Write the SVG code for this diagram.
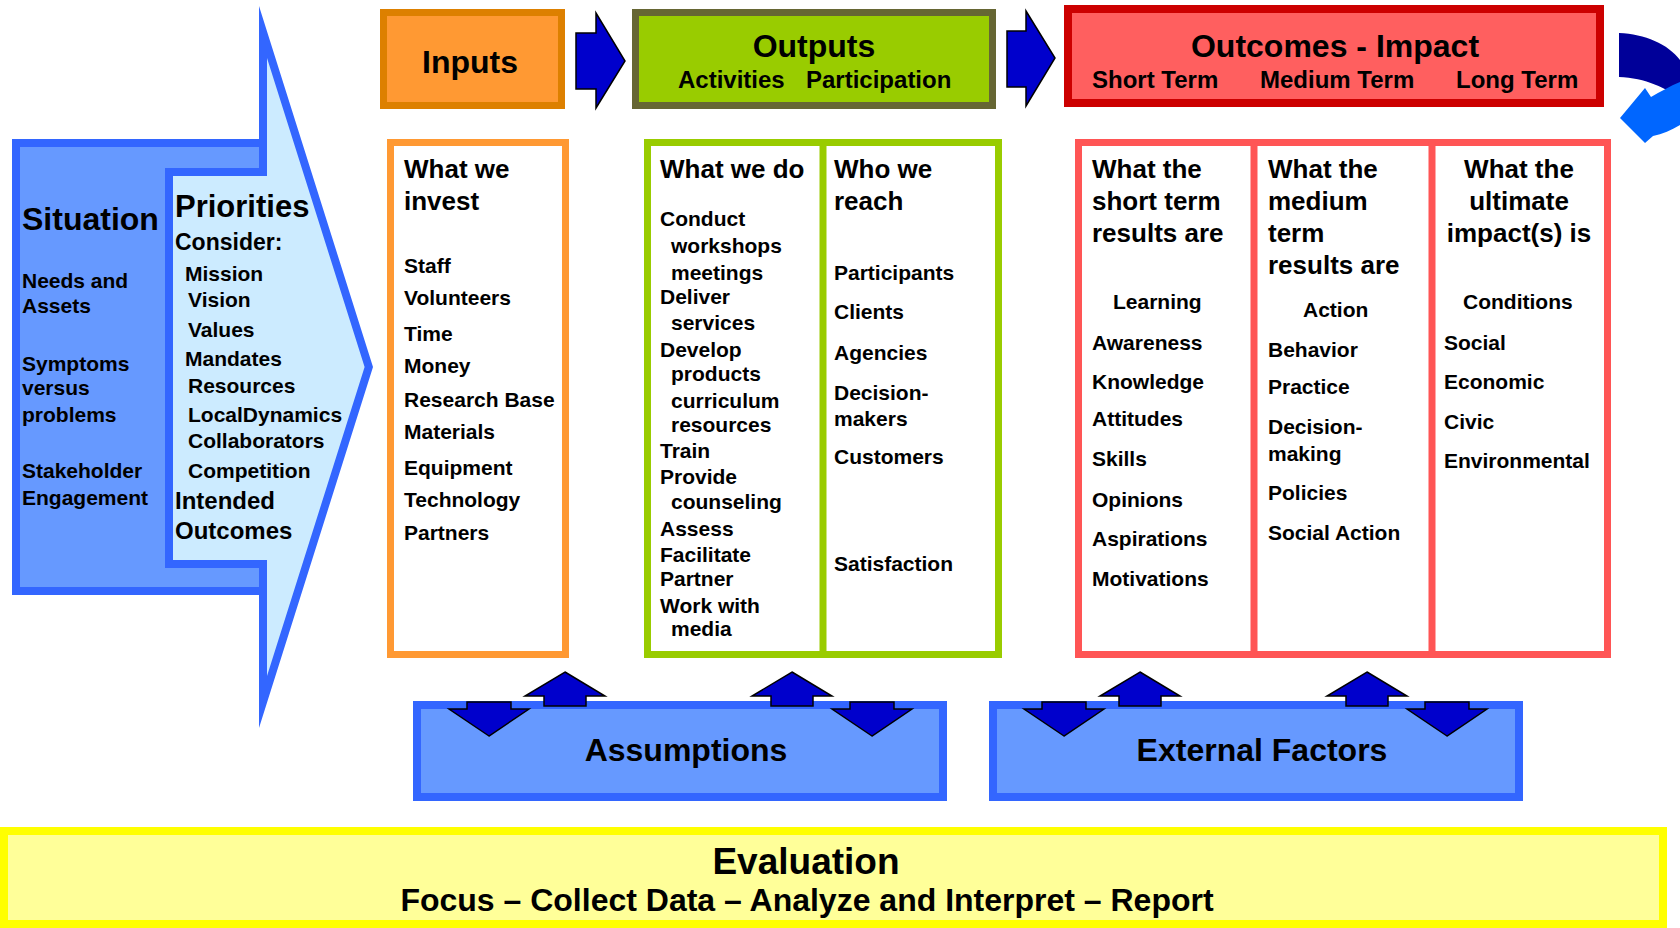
<svg xmlns="http://www.w3.org/2000/svg" width="1680" height="928" viewBox="0 0 1680 928">
  <style>
    text { font-family: "Liberation Sans", Arial, Helvetica, sans-serif; font-weight: bold; fill: #000; }
    .t37 { font-size: 37px; }
    .t32 { font-size: 32px; }
    .t31 { font-size: 31px; }
    .t26 { font-size: 26px; }
    .t24 { font-size: 24px; }
    .t23 { font-size: 23px; }
    .t21 { font-size: 21px; }
    .mid { text-anchor: middle; }
    .flow { fill: #0000CC; stroke: #000; stroke-width: 1.5; }
    .col { fill: #fff; stroke-width: 7; }
  </style>
  <defs>
    <path id="upArrow" d="M0,0 L40,24 L21,24 L21,34 L-21,34 L-21,24 L-40,24 Z"/>
    <path id="downArrow" d="M0,0 L-40,-27 L-22,-27 L-22,-34 L22,-34 L22,-27 L40,-27 Z"/>
  </defs>

  <rect width="1680" height="928" fill="#fff"/>

  <!-- Situation panel -->
  <g id="situation">
    <rect x="12" y="139" width="255" height="456" fill="#3366FF"/>
    <rect x="20" y="147" width="239" height="440" fill="#6699FF"/>
    <text class="t32" x="22" y="230">Situation</text>
    <text class="t21" x="22" y="288">Needs and</text>
    <text class="t21" x="22" y="313">Assets</text>
    <text class="t21" x="22" y="371">Symptoms</text>
    <text class="t21" x="22" y="395">versus</text>
    <text class="t21" x="22" y="422">problems</text>
    <text class="t21" x="22" y="478">Stakeholder</text>
    <text class="t21" x="22" y="505">Engagement</text>
  </g>

  <!-- Priorities arrow -->
  <g id="priorities">
    <polygon points="165,168 259,168 259,6 373,367 259,728 259,568 165,568" fill="#3366FF"/>
    <polygon points="173,176 267,176 267,58 364.6,367 267,676 267,560 173,560" fill="#CCEBFF"/>
    <text class="t31" x="175" y="217">Priorities</text>
    <text class="t23" x="175" y="250">Consider:</text>
    <text class="t21" x="185" y="281">Mission</text>
    <text class="t21" x="188" y="307">Vision</text>
    <text class="t21" x="188" y="337">Values</text>
    <text class="t21" x="185" y="366">Mandates</text>
    <text class="t21" x="188" y="393">Resources</text>
    <text class="t21" x="188" y="422">LocalDynamics</text>
    <text class="t21" x="188" y="448">Collaborators</text>
    <text class="t21" x="188" y="478">Competition</text>
    <text class="t24" x="175" y="509">Intended</text>
    <text class="t24" x="175" y="539">Outcomes</text>
  </g>

  <!-- Header boxes -->
  <g id="inputs-head">
    <rect x="383.5" y="12.5" width="178" height="93" fill="#FF9933" stroke="#DD8000" stroke-width="7"/>
    <text class="t32 mid" x="470" y="73">Inputs</text>
  </g>
  <g id="outputs-head">
    <rect x="635.5" y="12.5" width="357" height="93" fill="#99CC00" stroke="#666633" stroke-width="7"/>
    <text class="t32 mid" x="814" y="57">Outputs</text>
    <text class="t24" x="678" y="88">Activities</text>
    <text class="t24" x="806" y="88">Participation</text>
  </g>
  <g id="outcomes-head">
    <rect x="1068" y="9" width="532" height="94" fill="#FF5F5F" stroke="#CC0000" stroke-width="8"/>
    <text class="t32 mid" x="1335" y="57">Outcomes - Impact</text>
    <text class="t24" x="1092" y="88">Short Term</text>
    <text class="t24" x="1260" y="88">Medium Term</text>
    <text class="t24" x="1456" y="88">Long Term</text>
  </g>

  <!-- Return arrow at the right edge -->
  <g id="return-arrow">
    <path d="M1619,33 C1645,34 1668,44 1680,60 L1680,100 C1668,88 1645,78 1619,77 Z" fill="#000099"/>
    <path d="M1620,118 L1645,88 L1651,97 C1660,92 1670,86 1680,82 L1680,125 C1672,130 1662,134 1653,136 L1645,143 Z" fill="#0066FF"/>
  </g>

  <!-- Detail columns -->
  <g id="inputs-detail">
    <rect class="col" x="390.5" y="142.5" width="175" height="512" stroke="#FF9933"/>
    <text class="t26" x="404" y="178">What we</text>
    <text class="t26" x="404" y="210">invest</text>
    <text class="t21" x="404" y="273">Staff</text>
    <text class="t21" x="404" y="305">Volunteers</text>
    <text class="t21" x="404" y="341">Time</text>
    <text class="t21" x="404" y="373">Money</text>
    <text class="t21" x="404" y="407">Research Base</text>
    <text class="t21" x="404" y="439">Materials</text>
    <text class="t21" x="404" y="475">Equipment</text>
    <text class="t21" x="404" y="507">Technology</text>
    <text class="t21" x="404" y="540">Partners</text>
  </g>

  <g id="outputs-detail">
    <rect class="col" x="647.5" y="142.5" width="351" height="512" stroke="#99CC00"/>
    <line x1="823" y1="142" x2="823" y2="655" stroke="#99CC00" stroke-width="7"/>
    <text class="t26" x="660" y="178">What we do</text>
    <text class="t21" x="660" y="226">Conduct</text>
    <text class="t21" x="671" y="253">workshops</text>
    <text class="t21" x="671" y="280">meetings</text>
    <text class="t21" x="660" y="304">Deliver</text>
    <text class="t21" x="671" y="330">services</text>
    <text class="t21" x="660" y="357">Develop</text>
    <text class="t21" x="671" y="381">products</text>
    <text class="t21" x="671" y="408">curriculum</text>
    <text class="t21" x="671" y="432">resources</text>
    <text class="t21" x="660" y="458">Train</text>
    <text class="t21" x="660" y="484">Provide</text>
    <text class="t21" x="671" y="509">counseling</text>
    <text class="t21" x="660" y="536">Assess</text>
    <text class="t21" x="660" y="562">Facilitate</text>
    <text class="t21" x="660" y="586">Partner</text>
    <text class="t21" x="660" y="613">Work with</text>
    <text class="t21" x="671" y="636">media</text>

    <text class="t26" x="834" y="178">Who we</text>
    <text class="t26" x="834" y="210">reach</text>
    <text class="t21" x="834" y="280">Participants</text>
    <text class="t21" x="834" y="319">Clients</text>
    <text class="t21" x="834" y="360">Agencies</text>
    <text class="t21" x="834" y="400">Decision-</text>
    <text class="t21" x="834" y="426">makers</text>
    <text class="t21" x="834" y="464">Customers</text>
    <text class="t21" x="834" y="571">Satisfaction</text>
  </g>

  <g id="outcomes-detail">
    <rect class="col" x="1078.5" y="142.5" width="529" height="512" stroke="#FF5555"/>
    <line x1="1254" y1="142" x2="1254" y2="655" stroke="#FF5555" stroke-width="7"/>
    <line x1="1432" y1="142" x2="1432" y2="655" stroke="#FF5555" stroke-width="7"/>

    <text class="t26" x="1092" y="178">What the</text>
    <text class="t26" x="1092" y="210">short term</text>
    <text class="t26" x="1092" y="242">results are</text>
    <text class="t21" x="1113" y="309">Learning</text>
    <text class="t21" x="1092" y="350">Awareness</text>
    <text class="t21" x="1092" y="389">Knowledge</text>
    <text class="t21" x="1092" y="426">Attitudes</text>
    <text class="t21" x="1092" y="466">Skills</text>
    <text class="t21" x="1092" y="507">Opinions</text>
    <text class="t21" x="1092" y="546">Aspirations</text>
    <text class="t21" x="1092" y="586">Motivations</text>

    <text class="t26" x="1268" y="178">What the</text>
    <text class="t26" x="1268" y="210">medium</text>
    <text class="t26" x="1268" y="242">term</text>
    <text class="t26" x="1268" y="274">results are</text>
    <text class="t21" x="1303" y="317">Action</text>
    <text class="t21" x="1268" y="357">Behavior</text>
    <text class="t21" x="1268" y="394">Practice</text>
    <text class="t21" x="1268" y="434">Decision-</text>
    <text class="t21" x="1268" y="461">making</text>
    <text class="t21" x="1268" y="500">Policies</text>
    <text class="t21" x="1268" y="540">Social Action</text>

    <text class="t26 mid" x="1519" y="178">What the</text>
    <text class="t26 mid" x="1519" y="210">ultimate</text>
    <text class="t26 mid" x="1519" y="242">impact(s) is</text>
    <text class="t21" x="1463" y="309">Conditions</text>
    <text class="t21" x="1444" y="350">Social</text>
    <text class="t21" x="1444" y="389">Economic</text>
    <text class="t21" x="1444" y="429">Civic</text>
    <text class="t21" x="1444" y="468">Environmental</text>
  </g>

  <!-- Assumptions and external factors -->
  <g id="assumptions">
    <rect x="417" y="705" width="526" height="92" fill="#6699FF" stroke="#3366FF" stroke-width="8"/>
    <text class="t32 mid" x="686" y="761">Assumptions</text>
  </g>
  <g id="external-factors">
    <rect x="993" y="705" width="526" height="92" fill="#6699FF" stroke="#3366FF" stroke-width="8"/>
    <text class="t32 mid" x="1262" y="761">External Factors</text>
  </g>

  <!-- Evaluation band -->
  <g id="evaluation">
    <rect x="4" y="831" width="1659" height="93" fill="#FFFF99" stroke="#FFFF00" stroke-width="8"/>
    <text class="t37 mid" x="806" y="874">Evaluation</text>
    <text class="t32 mid" x="807" y="911">Focus – Collect Data – Analyze and Interpret – Report</text>
  </g>

  <!-- Connectors -->
  <g id="connectors">
    <polygon class="flow" points="576,33 596,33 596,13 625,61 596,108 596,89 576,89"/>
    <polygon class="flow" points="1007,31 1026,31 1026,11 1055,58 1026,106 1026,87 1007,87"/>

    <use href="#downArrow" class="flow" x="489" y="736"/>
    <use href="#upArrow" class="flow" x="565" y="672"/>
    <use href="#upArrow" class="flow" x="792" y="672"/>
    <use href="#downArrow" class="flow" x="872" y="736"/>

    <use href="#downArrow" class="flow" x="1064" y="736"/>
    <use href="#upArrow" class="flow" x="1140" y="672"/>
    <use href="#upArrow" class="flow" x="1367" y="672"/>
    <use href="#downArrow" class="flow" x="1447" y="736"/>
  </g>
</svg>
